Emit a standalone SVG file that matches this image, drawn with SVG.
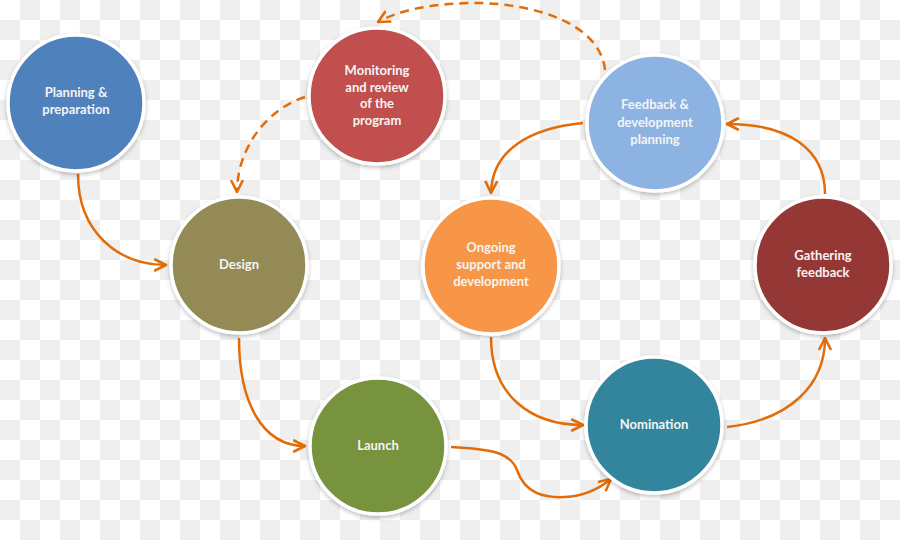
<svg xmlns="http://www.w3.org/2000/svg" width="900" height="540" viewBox="0 0 900 540">
<defs>
<pattern id="checker" width="40" height="40" patternUnits="userSpaceOnUse">
<rect width="40" height="40" fill="#ffffff"/>
<rect x="20" y="0" width="20" height="20" fill="#efefef"/>
<rect x="0" y="20" width="20" height="20" fill="#efefef"/>
</pattern>
<filter id="shadow" x="-20%" y="-20%" width="140%" height="140%">
<feDropShadow dx="0" dy="2" stdDeviation="2" flood-color="#000" flood-opacity="0.25"/>
</filter>
<marker id="arrow" viewBox="0 0 14 14" refX="12.5" refY="7" markerWidth="14" markerHeight="14" markerUnits="userSpaceOnUse" orient="auto">
<path d="M1.5,1.5 L12.5,7 L1.5,12.5" fill="none" stroke="#e36c09" stroke-width="2.6" stroke-linecap="round" stroke-linejoin="round"/>
</marker>
<style>
.node circle { stroke: #ffffff; stroke-width: 3.5; filter: url(#shadow); }
.node text { fill: #f4f4f4; font-family: Lato, "Open Sans", "Liberation Sans", sans-serif; font-weight: bold; font-size: 13px; text-anchor: middle; }
.conn path { fill: none; stroke: #e36c09; stroke-width: 2.5; marker-end: url(#arrow); }
.conn path.dash { stroke-dasharray: 9 6; }
</style>
</defs>
<rect width="900" height="540" fill="url(#checker)"/>
<g id="connectors" class="conn">
<path d="M78,174 C 78,232 118,265 166,265"/>
<path d="M239,338 C 239,402 262,446 305,446"/>
<path d="M451,447 C 490,449 510,452 517,470 C 525,494 545,498 565,497 C 585,496 600,488 611,479"/>
<path d="M727,427 C 790,420 825,385 825,338"/>
<path d="M825,194 C 825,150 790,124 727,124"/>
<path d="M583,123 C 530,128 492,150 491,193"/>
<path d="M491,337 C 491,395 530,425 583,425"/>
<path class="dash" d="M605,70 C 600,22 530,2 470,3 C 430,4 400,10 378,22"/>
<path class="dash" d="M305,97 C 265,110 237,150 237,192"/>
</g>
<g id="planning" class="node">
<circle cx="76" cy="103" r="68" fill="#4f81bd"/>
<text x="76" y="97">Planning &amp;</text>
<text x="76" y="114">preparation</text>
</g>
<g id="monitoring" class="node">
<circle cx="377" cy="96" r="68" fill="#c0504d"/>
<text x="377" y="75">Monitoring</text>
<text x="377" y="92">and review</text>
<text x="377" y="108">of the</text>
<text x="377" y="125">program</text>
</g>
<g id="feedback-planning" class="node">
<circle cx="655" cy="123" r="68" fill="#8db3e2"/>
<text x="655" y="109">Feedback &amp;</text>
<text x="655" y="127">development</text>
<text x="655" y="144">planning</text>
</g>
<g id="design" class="node">
<circle cx="239" cy="265" r="68" fill="#948a54"/>
<text x="239" y="269">Design</text>
</g>
<g id="ongoing" class="node">
<circle cx="491" cy="266" r="68" fill="#f79646"/>
<text x="491" y="252">Ongoing</text>
<text x="491" y="269">support and</text>
<text x="491" y="286">development</text>
</g>
<g id="gathering" class="node">
<circle cx="823" cy="265" r="68" fill="#953735"/>
<text x="823" y="260">Gathering</text>
<text x="823" y="277">feedback</text>
</g>
<g id="launch" class="node">
<circle cx="378" cy="446" r="68" fill="#77933c"/>
<text x="378" y="450">Launch</text>
</g>
<g id="nomination" class="node">
<circle cx="654" cy="425" r="68" fill="#31859c"/>
<text x="654" y="429">Nomination</text>
</g>
</svg>
